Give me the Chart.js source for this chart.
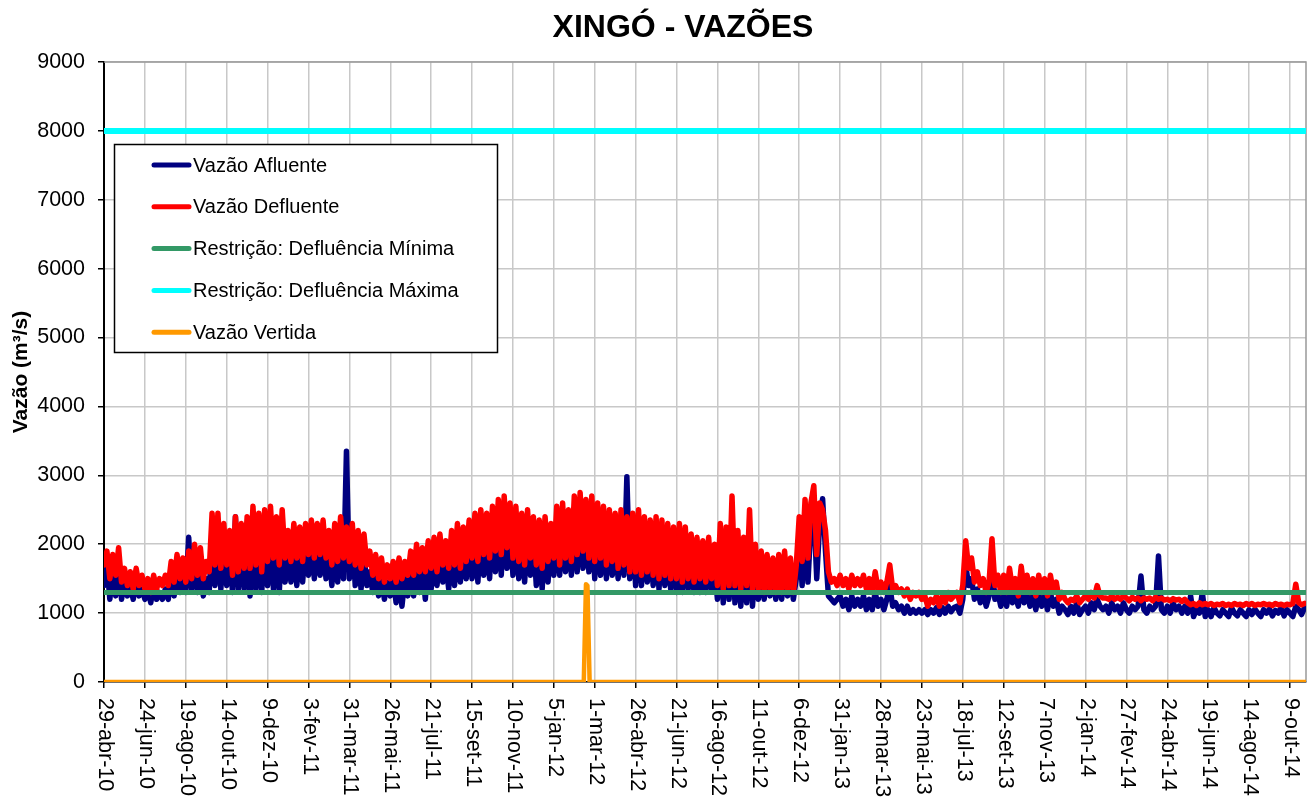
<!DOCTYPE html>
<html>
<head>
<meta charset="utf-8">
<title>Xingó - Vazões</title>
<script src="https://cdn.jsdelivr.net/npm/chart.js@4.4.0/dist/chart.umd.min.js"></script>
<style>
  body { margin: 0; background: #fff; }
  #wrap { width: 1311px; height: 799px; position: relative; }
</style>
</head>
<body>
<div id="wrap"><canvas id="myChart"></canvas></div>
<script>
// x axis is "days since 29-abr-10", one label every 56 days
const tickLabels = [
  "29-abr-10", "24-jun-10", "19-ago-10", "14-out-10", "9-dez-10", "3-fev-11",
  "31-mar-11", "26-mai-11", "21-jul-11", "15-set-11", "10-nov-11", "5-jan-12",
  "1-mar-12", "26-abr-12", "21-jun-12", "16-ago-12", "11-out-12", "6-dez-12",
  "31-jan-13", "28-mar-13", "23-mai-13", "18-jul-13", "12-set-13", "7-nov-13",
  "2-jan-14", "27-fev-14", "24-abr-14", "19-jun-14", "14-ago-14", "9-out-14",
];
const tickStep = 56;
const lastDay = 1646;
const sampleStep = 4; // one reading every 4 days in the arrays below

// Vazão Afluente (m³/s)
const vazaoAfluente = [
  1400, 1700, 1200, 1600, 1250, 1750, 1200,
  1450, 1250, 1400, 1200, 1450, 1250, 1350,
  1200, 1350, 1150, 1400, 1200, 1300, 1200,
  1350, 1200, 1550, 1250, 1650, 1300, 1600,
  1300, 2100, 1350, 1750, 1300, 1700, 1250,
  1500, 1300, 2100, 1400, 2200, 1350, 2000,
  1400, 1900, 1300, 2400, 1350, 2000, 1350,
  2100, 1250, 2200, 1350, 2100, 1300, 2200,
  1400, 2200, 1350, 2100, 1300, 2200, 1450,
  1900, 1450, 2000, 1400, 1950, 1450, 2000,
  1550, 2050, 1500, 2000, 1550, 2050, 1500,
  1900, 1400, 2000, 1450, 2050, 1500, 3350,
  1500, 2200, 1400, 1900, 1350, 1850, 1400,
  1600, 1300, 1550, 1250, 1500, 1200, 1450,
  1250, 1500, 1150, 1550, 1100, 1500, 1250,
  1600, 1250, 1700, 1300, 1650, 1200, 1750,
  1350, 1800, 1400, 1850, 1450, 1750, 1350,
  1900, 1400, 2000, 1450, 1950, 1500, 2050,
  1500, 2150, 1450, 2200, 1550, 2150, 1500,
  2250, 1600, 2350, 1550, 2400, 1650, 2300,
  1550, 2250, 1500, 2150, 1450, 2200, 1550,
  2100, 1400, 2050, 1350, 2100, 1450, 2000,
  1550, 2250, 1550, 2300, 1600, 2200, 1550,
  2400, 1600, 2450, 1650, 2350, 1600, 2400,
  1500, 2300, 1550, 2250, 1500, 2200, 1550,
  2150, 1500, 2200, 1550, 2980, 1500, 2150,
  1400, 2200, 1400, 2100, 1450, 2050, 1400,
  2100, 1350, 2050, 1400, 2000, 1350, 1950,
  1300, 2000, 1300, 1950, 1350, 1850, 1300,
  1800, 1300, 1750, 1300, 1800, 1350, 1700,
  1200, 2000, 1150, 1950, 1200, 2300, 1150,
  1900, 1100, 1800, 1150, 2200, 1100, 1700,
  1200, 1650, 1200, 1600, 1250, 1550, 1200,
  1600, 1200, 1650, 1250, 1550, 1200, 1500,
  2100, 1400, 2350, 1450, 2300, 2500, 1500,
  2300, 2660, 1900, 1250, 1200, 1150, 1200,
  1250, 1100, 1200, 1050, 1250, 1100, 1200,
  1100, 1250, 1050, 1200, 1050, 1300, 1100,
  1200, 1050, 1200, 1400, 1100, 1150, 1050,
  1100, 1000, 1100, 1000, 1050, 1000, 1050,
  1000, 1050, 980, 1050, 1000, 1080, 980,
  1080, 1000, 1100, 1020, 1080, 1100, 1000,
  1200, 1700, 1400, 1500, 1200, 1350, 1150,
  1300, 1100, 1250, 1700, 1200, 1300, 1100,
  1300, 1100, 1350, 1150, 1250, 1100, 1400,
  1150, 1300, 1100, 1250, 1050, 1300, 1100,
  1250, 1050, 1300, 1100, 1200, 1000, 1100,
  1050, 980, 1100, 1000, 1150, 980, 1050,
  1100, 1000, 1150, 1050, 1200, 1100, 1050,
  1100, 1000, 1150, 1050, 1100, 1000, 1150,
  1050, 1000, 1100, 1050, 1100, 1540, 1050,
  1000, 1100, 1050, 1100, 1830, 1050, 1000,
  1100, 1000, 1150, 1050, 1100, 1000, 1100,
  1000, 1250, 950, 1050, 1000, 1300, 950,
  1050, 950, 1080, 1000, 960, 1050, 1000,
  950, 1080, 1000, 960, 1050, 1000, 950,
  1050, 980, 1060, 1000, 950, 1050, 1000,
  1060, 960, 1040, 1000, 1080, 960, 1050,
  1000, 950, 1100, 1050, 980, 1080,
];

// Vazão Defluente (m³/s)
const vazaoDefluente = [
  1700, 1900, 1500, 1850, 1550, 1950, 1450,
  1650, 1400, 1600, 1350, 1650, 1400, 1550,
  1350, 1500, 1300, 1550, 1350, 1500, 1400,
  1550, 1400, 1750, 1450, 1850, 1500, 1800,
  1450, 1900, 1500, 2000, 1550, 1950, 1500,
  1750, 1600, 2450, 1700, 2450, 1650, 2300,
  1700, 2200, 1550, 2400, 1600, 2300, 1650,
  2400, 1650, 2550, 1700, 2450, 1600, 2500,
  1750, 2550, 1800, 2400, 1700, 2500, 1800,
  2200, 1750, 2300, 1800, 2250, 1750, 2300,
  1850, 2350, 1800, 2300, 1850, 2350, 1800,
  2200, 1700, 2300, 1750, 2400, 1800, 2250,
  1750, 2300, 1700, 2200, 1650, 2150, 1700,
  1900, 1550, 1850, 1500, 1800, 1450, 1700,
  1500, 1750, 1450, 1800, 1500, 1750, 1550,
  1900, 1550, 2000, 1600, 1950, 1600, 2050,
  1650, 2100, 1600, 2150, 1700, 2050, 1650,
  2200, 1700, 2300, 1650, 2250, 1750, 2350,
  1800, 2450, 1750, 2500, 1850, 2450, 1800,
  2550, 1900, 2650, 1850, 2700, 1950, 2600,
  1800, 2550, 1750, 2450, 1700, 2500, 1800,
  2400, 1700, 2350, 1650, 2400, 1750, 2300,
  1800, 2550, 1700, 2600, 1800, 2500, 1750,
  2700, 1850, 2750, 1900, 2650, 1800, 2700,
  1750, 2600, 1800, 2550, 1700, 2500, 1750,
  2450, 1650, 2500, 1700, 2400, 1600, 2450,
  1600, 2500, 1550, 2400, 1600, 2350, 1550,
  2400, 1500, 2350, 1550, 2300, 1500, 2250,
  1500, 2300, 1450, 2250, 1500, 2150, 1450,
  2100, 1500, 2050, 1450, 2100, 1500, 2000,
  1400, 2300, 1350, 2250, 1400, 2700, 1400,
  2200, 1350, 2100, 1400, 2500, 1350, 2000,
  1350, 1900, 1300, 1850, 1350, 1800, 1300,
  1850, 1300, 1900, 1350, 1800, 1300, 1700,
  2400, 1750, 2650, 1800, 2600, 2850, 1850,
  2600, 2500, 2200, 1600, 1450, 1500, 1400,
  1550, 1400, 1500, 1350, 1550, 1400, 1500,
  1400, 1550, 1350, 1500, 1300, 1600, 1350,
  1450, 1300, 1450, 1700, 1350, 1400, 1300,
  1350, 1250, 1350, 1200, 1300, 1250, 1300,
  1200, 1250, 1100, 1200, 1150, 1250, 1100,
  1250, 1150, 1300, 1200, 1250, 1300, 1150,
  1400, 2050, 1650, 1800, 1450, 1600, 1400,
  1500, 1300, 1450, 2080, 1400, 1550, 1300,
  1550, 1300, 1650, 1350, 1500, 1250, 1680,
  1350, 1550, 1300, 1500, 1250, 1550, 1300,
  1500, 1250, 1550, 1300, 1450, 1200, 1300,
  1200, 1150, 1200, 1180, 1250, 1150, 1200,
  1250, 1200, 1300, 1220, 1400, 1250, 1220,
  1220, 1200, 1250, 1200, 1230, 1200, 1250,
  1220, 1180, 1230, 1200, 1220, 1180, 1220,
  1200, 1220, 1180, 1230, 1200, 1220, 1190,
  1200, 1180, 1210, 1190, 1200, 1170, 1200,
  1150, 1120, 1140, 1110, 1150, 1120, 1140,
  1120, 1140, 1110, 1130, 1120, 1140, 1110,
  1130, 1110, 1140, 1120, 1130, 1110, 1140,
  1120, 1140, 1110, 1130, 1120, 1140, 1120,
  1130, 1110, 1140, 1120, 1130, 1110, 1130,
  1120, 1140, 1420, 1150, 1120, 1140,
];

// constraints and spilled flow: [day, value] pairs
const minimaDays = [0, lastDay];
const minimaValues = [1300, 1300];
const maximaDays = [0, lastDay];
const maximaValues = [8000, 8000];
const vertidaDays = [0, 657, 660, 662, 665, lastDay];
const vertidaValues = [0, 0, 1420, 1400, 0, 0];

const fontFamily = "'Liberation Sans', Arial, sans-serif";

const sampled = (arr) => arr.map((v, i) => ({ x: i * sampleStep, y: v }));
const paired = (days, vals) => days.map((d, i) => ({ x: d, y: vals[i] }));

const lineDefaults = {
  pointRadius: 0,
  fill: false,
  tension: 0,
  borderJoinStyle: "round",
  borderCapStyle: "round",
};

// title, rotated date labels and the boxed legend are painted here
const excelLook = {
  id: "excelLook",
  beforeDatasetsDraw(chart) {
    const { ctx, chartArea: a } = chart;
    ctx.save();
    ctx.strokeStyle = "#999";
    ctx.lineWidth = 1.5;
    ctx.beginPath();
    ctx.moveTo(a.left, a.top);
    ctx.lineTo(a.right, a.top);
    ctx.lineTo(a.right, a.bottom);
    ctx.stroke();
    ctx.restore();
  },
  afterDraw(chart) {
    const { ctx, chartArea: a } = chart;
    const xScale = chart.scales.x;
    ctx.save();

    ctx.fillStyle = "#000";
    ctx.font = `bold 32px ${fontFamily}`;
    ctx.textAlign = "center";
    ctx.textBaseline = "middle";
    ctx.fillText("XINGÓ - VAZÕES", 683, 28);

    ctx.font = `21.5px ${fontFamily}`;
    ctx.textAlign = "left";
    tickLabels.forEach((label, i) => {
      const x = xScale.getPixelForValue(i * tickStep);
      ctx.save();
      ctx.translate(x + 1, a.bottom + 16);
      ctx.rotate(Math.PI / 2);
      ctx.fillText(label, 0, 0);
      ctx.restore();
    });

    const box = { left: 114.5, top: 144.5, width: 383, height: 208 };
    ctx.fillStyle = "#fff";
    ctx.fillRect(box.left, box.top, box.width, box.height);
    ctx.strokeStyle = "#000";
    ctx.lineWidth = 1.5;
    ctx.strokeRect(box.left, box.top, box.width, box.height);

    ctx.font = `20px ${fontFamily}`;
    ctx.textBaseline = "middle";
    ctx.lineCap = "round";
    chart.data.datasets.forEach((ds, i) => {
      const y = 165 + i * 41.8;
      ctx.strokeStyle = ds.borderColor;
      ctx.lineWidth = 5;
      ctx.beginPath();
      ctx.moveTo(154, y);
      ctx.lineTo(189, y);
      ctx.stroke();
      ctx.fillStyle = "#000";
      ctx.fillText(ds.label, 193, y + 1);
    });
    ctx.restore();
  },
};

const ctx = document.getElementById("myChart");
const config = {
  type: "line",
  data: {
    datasets: [
      { ...lineDefaults, label: "Vazão Afluente", data: sampled(vazaoAfluente), borderColor: "#000080", borderWidth: 5.5, order: 5 },
      { ...lineDefaults, label: "Vazão Defluente", data: sampled(vazaoDefluente), borderColor: "#ff0000", borderWidth: 5.5, order: 4 },
      { ...lineDefaults, label: "Restrição: Defluência Mínima", data: paired(minimaDays, minimaValues), borderColor: "#339966", borderWidth: 5, order: 2 },
      { ...lineDefaults, label: "Restrição: Defluência Máxima", data: paired(maximaDays, maximaValues), borderColor: "#00ffff", borderWidth: 6, order: 3 },
      { ...lineDefaults, label: "Vazão Vertida", data: paired(vertidaDays, vertidaValues), borderColor: "#ff9900", borderWidth: 4.5, order: 1 },
    ],
  },
  options: {
    responsive: true,
    maintainAspectRatio: false,
    animation: false,
    layout: { padding: { top: 62, right: 5, left: 0, bottom: 0 } },
    plugins: {
      legend: { display: false },
      tooltip: { enabled: false },
    },
    scales: {
      x: {
        type: "linear",
        min: 0,
        max: lastDay,
        afterBuildTicks: (scale) => {
          scale.ticks = tickLabels.map((t, i) => ({ value: i * tickStep }));
        },
        ticks: { display: false },
        grid: { color: "#c8c8c8", lineWidth: 1.5, tickColor: "#000", tickLength: 6 },
        border: { color: "#000", width: 1.5 },
        afterFit: (scale) => {
          scale.height = 799 - 682;
        },
      },
      y: {
        min: 0,
        max: 9000,
        ticks: {
          stepSize: 1000,
          color: "#000",
          padding: 13,
          font: { size: 21.5, family: fontFamily },
          callback: (value) => String(value),
        },
        grid: { color: "#c8c8c8", lineWidth: 1.5, tickColor: "#000", tickLength: 6 },
        border: { color: "#000", width: 2 },
        title: {
          display: true,
          text: "Vazão (m³/s)",
          color: "#000",
          font: { size: 21, weight: "bold", family: fontFamily },
          padding: { top: 9, bottom: 0 },
        },
        afterFit: (scale) => {
          scale.width = 104;
        },
      },
    },
  },
  plugins: [excelLook],
};

window.addEventListener("load", () => {
  new Chart(ctx, config);
});
</script>
</body>
</html>
